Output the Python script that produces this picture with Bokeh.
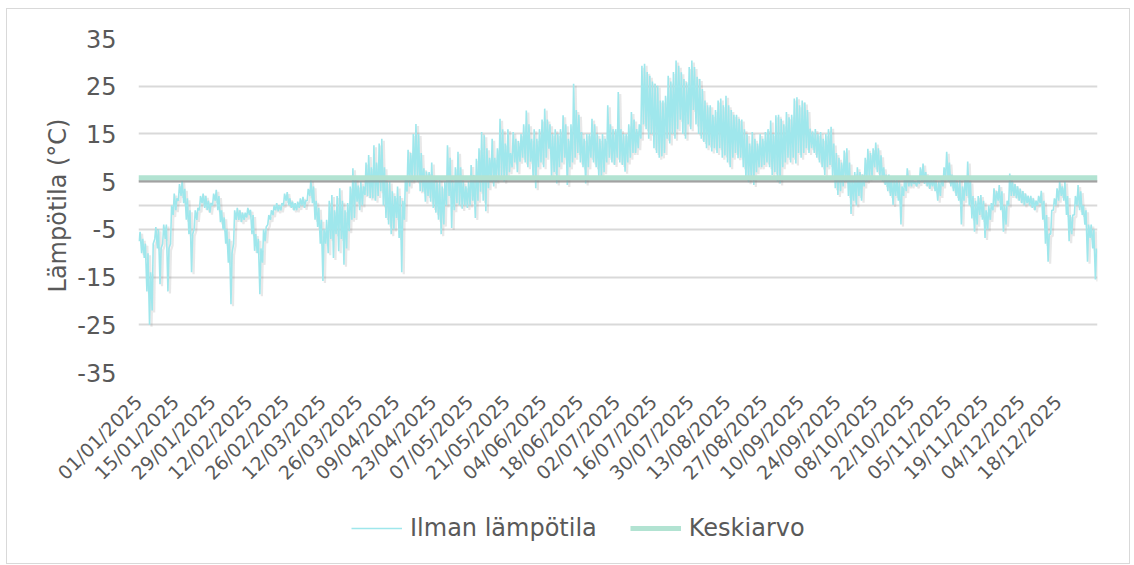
import math
import numpy as np
from bokeh.plotting import figure
from bokeh.layouts import column
from bokeh.models import Range1d, FixedTicker, Legend, LegendItem
from bokeh.embed import file_html
from bokeh.resources import INLINE

# ---------------- data ----------------
TICK_LABELS = ["01/01/2025", "15/01/2025", "29/01/2025", "12/02/2025", "26/02/2025",
               "12/03/2025", "26/03/2025", "09/04/2025", "23/04/2025", "07/05/2025",
               "21/05/2025", "04/06/2025", "18/06/2025", "02/07/2025", "16/07/2025",
               "30/07/2025", "13/08/2025", "27/08/2025", "10/09/2025", "24/09/2025",
               "08/10/2025", "22/10/2025", "05/11/2025", "19/11/2025", "04/12/2025",
               "18/12/2025"]
TICK_STEP_DAYS = 14

Y_TICKS = [-35, -25, -15, -5, 5, 15, 25, 35]
GRID_LINES = [-35, -25, -15, -5, 0, 5, 15, 25, 35]

MEAN = 5.8  # Keskiarvo

# daily low / high air temperature, month by month
LOW_JAN = [-7.5, -10, -11, -18, -25, -22, -7, -9, -16.5, -8, -7, -18, -8, -2, -1, 1, 2, 0.5, -3, -6,
           -14, -5, -3, -1, 0.5, -0.5, -1, -1.5, 0, 1, -1]
HIGH_JAN = [-5.5, -7, -8, -10, -14, -8, -4.5, -5, -9, -4, -4, -9, 0, 2.5, 1.5, 4.5, 5.2, 3.5, 1.5, -1,
            -6, -1, -0.5, 2, 2.5, 2, 1, 0.5, 2.5, 3.3, 2]
LOW_FEB = [-3.5, -5, -8, -12, -20.7, -8, -3, -3, -3.5, -3, -2.5, -2, -6, -9.5, -10, -18.6, -12, -7.5,
           -4, -3, -2, -1, -1.2, -1, 0, 1, 0, -0.5]
HIGH_FEB = [-1, -2.5, -5, -7, -10, -1, -0.5, -1, -1.5, -1.5, -0.5, -0.9, -2, -6, -7, -9, -5, -4.5,
            -2, -1, 0, 0.5, 0, 0.5, 2.5, 2.8, 1.5, 0.8]
LOW_MAR = [-1, -1, -0.5, 0, -0.5, 1, 2, 0.5, -3, -4.5, -8, -15.8, -8, -10, -7, -11, -6, -9.6, -7,
           -12.4, -9, -5.4, -3, -2.6, 0.8, -1, 0, 2.2, 2, 1.5, 1.5]
HIGH_MAR = [0.5, 0.8, 1.5, 1.8, 1, 3.5, 5.4, 4, 1, -0.5, -3, -5, -3, 1, 2.2, -1, 2, 3.6, 1, -1, 0.5,
            4, 7.8, 5.7, 4.2, 5, 4, 9, 10.6, 8, 12.6]
LOW_APR = [1, 2, 3, 0, -2.6, -4, -6, -5, -2.6, -6.8, -14, -3, 2.9, 4, 5, 5.7, 5, 3, 2.9, 0.8, 2, 0.8,
           -0.5, -1.5, -3, -6, -4, 0, 2, -4.7]
HIGH_APR = [9, 13, 14, 8, 5, 5, 3, 2, 4, 2, 1, 6, 11.7, 11, 15, 17.1, 15, 11, 7.8, 7.1, 7, 9, 6, 5,
            5.5, 4, 5, 12.6, 10, 5]
LOW_MAY = [-1, 0.5, 0, -0.7, 0, -0.5, 0, 1, -2.6, 1, 2.9, 1, -1.2, 3.6, 5, 4, 5, 5.7, 6, 5, 6, 7, 8,
           9, 7, 9.2, 10, 9, 8, 9.2, 6]
HIGH_MAY = [8, 11.25, 8, 5, 4, 5, 8.5, 6.4, 9.8, 12, 15.4, 14.7, 12, 10, 14, 10, 12, 18.2, 16, 13,
            16, 11, 15.4, 14, 13.5, 15, 17, 19.9, 17, 14, 16]
LOW_JUN = [3.6, 8, 9, 8, 10, 11.9, 6, 7, 4.6, 8, 9, 10, 4.3, 8, 9, 10, 11, 9, 8, 4.6, 8, 10, 9, 8, 6,
           6.1, 7, 9, 10, 9]
HIGH_JUN = [14, 16, 18, 20.3, 18, 17, 15, 16, 15, 16, 18.9, 17, 14, 17, 25.5, 20, 19, 15.4, 14, 15,
            15, 18.2, 17, 15, 14, 15, 14, 21, 17, 16]
LOW_JUL = [8.5, 10, 9, 8.5, 7.1, 9, 10, 11, 11, 12, 14, 17, 16, 14, 15, 12, 11, 10, 10.3, 11, 14, 13,
           15, 14, 16, 18, 15, 14, 17, 16, 20]
HIGH_JUL = [16, 23.8, 16, 15, 15, 17, 19.6, 18, 16, 17, 29.3, 29.7, 28, 27.2, 26, 25.5, 25.1, 22, 22,
            23, 27.2, 26, 28, 30.4, 29.3, 27.9, 26.5, 25.8, 29, 30.4, 29]
LOW_AUG = [17, 15, 14, 13.3, 12, 12.6, 11.3, 12, 11, 12, 10, 10.5, 9, 8, 10, 11, 9.9, 10, 8, 5.6, 4.9,
           6, 4.3, 7, 8, 8, 8.5, 9, 8, 6.4, 7]
HIGH_AUG = [27, 26.5, 24.4, 22, 21, 21, 19, 20, 22, 22.4, 21, 23, 21, 20, 19, 19, 18.2, 18, 16, 15,
            13, 15.4, 14, 13, 15, 14, 15.4, 16, 17.8, 15, 18.9]
LOW_SEP = [5, 4.6, 8, 9, 10, 9, 10, 8.8, 11, 10, 11, 12, 11, 12, 11, 10, 9, 8, 6.4, 8, 8.5, 5.7, 3.6,
           2.2, 3, 4, 5, 2, -1.8, 1]
HIGH_SEP = [19, 18.2, 17, 19.6, 18.5, 19, 22.4, 22.7, 21, 22, 21.6, 20, 16.1, 15.5, 16, 15, 15.4, 14,
            15, 16, 16.5, 13, 11, 10, 9, 11.5, 12, 9, 6, 7]
LOW_OCT = [0, 2, 1, 4, 5, 5.5, 6, 8, 7, 6, 5, 4.3, 3, 2, 0.1, 2, 1, -4, 2, 3, 4, 4, 4.5, 4, 4.5, 5,
           4.5, 4, 3.5, 4, 3]
HIGH_OCT = [8, 7, 6.5, 10, 11.9, 11, 12, 13.2, 12, 10.5, 8, 6.5, 6.5, 6, 5.5, 6, 5, 4, 6, 7.8, 6, 5.5,
            5, 5.5, 8, 8.8, 7, 6, 5.5, 6, 5]
LOW_NOV = [1, 2, 4, 6, 5, 4, 3, 2, 1, -4, 1, 2, 0, -2.7, -5.5, -4, -2, -3, -6.8, -5, -3, -1, 0, 1, -1,
           -5.5, -4, 0, 2, 2]
HIGH_NOV = [5, 6, 8, 11.25, 9, 6.5, 6, 5, 5.5, 4, 6, 9.2, 5, 2, 1, 2, 2.2, 1, -1, 0, 0.5, 3.6, 3, 4.3,
            3, 0, 1, 6.7, 5, 4.5]
LOW_DEC = [1.5, 1, 0.5, 0, 0.5, 0, -0.5, -1, 0, 0.5, -3, -8, -11.8, -6, -1, 0, 1, 2, 1, -2, -7.5, -6,
           -2, 0, -1, -2, -4, -11.8, -6.8, -9, -15.5]
HIGH_DEC = [4, 3.5, 3, 2.5, 2, 2, 1.5, 1, 2, 3.1, 1, -2, -6, -1, 1.5, 3.6, 5, 4, 5, 2, -2, -2, 2, 4.3,
            3, 0, -1, -4, -4, -5, -9]

LOW = (LOW_JAN + LOW_FEB + LOW_MAR + LOW_APR + LOW_MAY + LOW_JUN +
       LOW_JUL + LOW_AUG + LOW_SEP + LOW_OCT + LOW_NOV + LOW_DEC)
HIGH = (HIGH_JAN + HIGH_FEB + HIGH_MAR + HIGH_APR + HIGH_MAY + HIGH_JUN +
        HIGH_JUL + HIGH_AUG + HIGH_SEP + HIGH_OCT + HIGH_NOV + HIGH_DEC)

# ---------------- styling ----------------
FONT = "DejaVu Sans"
TEXT_COLOR = "#595959"
GRID_COLOR = "#d9d9d9"
TEMP_COLOR = "#9fe7ec"
MEAN_COLOR = "#b2e3d2"
TEMP_WIDTH = 1.6
MEAN_WIDTH = 5

W = 1122
H_MAIN, H_LEG = 492, 62
FL, FR, FT, FB = 131, 32, 29, 129
FRAME_W = W - FL - FR
FRAME_H = H_MAIN - FT - FB

n_days = len(LOW)
days = np.arange(n_days)
x_temp = np.empty(2 * n_days)
y_temp = np.empty(2 * n_days)
x_temp[0::2] = days + 0.2
x_temp[1::2] = days + 0.6
y_temp[0::2] = LOW
y_temp[1::2] = HIGH

Y_MIN, Y_MAX = Y_TICKS[0], Y_TICKS[-1]
px_x = n_days / FRAME_W
px_y = (Y_MAX - Y_MIN) / FRAME_H

p = figure(width=W, height=H_MAIN,
           x_range=Range1d(0, n_days), y_range=Range1d(Y_MIN, Y_MAX),
           output_backend="svg", toolbar_location=None,
           min_border_left=FL, min_border_right=FR,
           min_border_top=FT, min_border_bottom=FB)
p.outline_line_color = None
p.background_fill_color = "white"
p.border_fill_color = "white"

# shadows + series
p.line(x_temp + 2 * px_x, y_temp - 2 * px_y, line_color="#8a8a8a", line_alpha=0.2, line_width=2.2)
p.line(x_temp, y_temp, line_color=TEMP_COLOR, line_width=TEMP_WIDTH)
x_mean = [days[0], days[-1] + 1]
p.line(x_mean, [MEAN - 3.5 * px_y] * 2, line_color="#7d7d7d", line_alpha=0.6, line_width=2.5)
p.line(x_mean, [MEAN] * 2, line_color=MEAN_COLOR, line_width=MEAN_WIDTH)

# axes
p.yaxis.ticker = FixedTicker(ticks=Y_TICKS)
p.yaxis.major_label_overrides = {v: str(v) for v in Y_TICKS}
p.yaxis.axis_line_color = None
p.yaxis.major_tick_line_color = None
p.yaxis.minor_tick_line_color = None
p.yaxis.major_tick_out = 0
p.yaxis.major_tick_in = 0
p.yaxis.major_label_text_font = FONT
p.yaxis.major_label_text_font_size = "24px"
p.yaxis.major_label_text_color = TEXT_COLOR
p.yaxis.major_label_standoff = 22
p.yaxis.axis_label = "Lämpötila (°C)"
p.yaxis.axis_label_text_font = FONT
p.yaxis.axis_label_text_font_size = "24px"
p.yaxis.axis_label_text_font_style = "normal"
p.yaxis.axis_label_text_color = TEXT_COLOR
p.yaxis.axis_label_standoff = 2

tick_pos = [i * TICK_STEP_DAYS for i in range(len(TICK_LABELS))]
p.xaxis.ticker = FixedTicker(ticks=tick_pos)
p.xaxis.major_label_overrides = {pos: lab for pos, lab in zip(tick_pos, TICK_LABELS)}
p.xaxis.major_label_orientation = math.pi / 4
p.xaxis.axis_line_color = None
p.xaxis.major_tick_line_color = None
p.xaxis.minor_tick_line_color = None
p.xaxis.major_tick_out = 0
p.xaxis.major_tick_in = 0
p.xaxis.major_label_text_font = FONT
p.xaxis.major_label_text_font_size = "19px"
p.xaxis.major_label_text_color = TEXT_COLOR
p.xaxis.major_label_standoff = 26

p.xgrid.visible = False
p.ygrid.ticker = FixedTicker(ticks=GRID_LINES)
p.ygrid.grid_line_color = GRID_COLOR
p.ygrid.grid_line_width = 2

# legend strip (separate small figure so that nothing is clipped)
lg = figure(width=W, height=H_LEG, output_backend="svg", toolbar_location=None,
            x_range=Range1d(0, 1), y_range=Range1d(0, 1),
            x_axis_location=None, y_axis_location=None,
            min_border_left=0, min_border_right=0, min_border_top=0, min_border_bottom=0)
lg.grid.visible = False
lg.outline_line_color = None
lg.border_fill_color = "white"
nan = float("nan")
leg_temp = lg.line(x=[nan], y=[nan], line_color=TEMP_COLOR, line_width=TEMP_WIDTH)
leg_mean = lg.line(x=[nan], y=[nan], line_color=MEAN_COLOR, line_width=MEAN_WIDTH)
legend = Legend(items=[LegendItem(label="Ilman lämpötila", renderers=[leg_temp]),
                       LegendItem(label="Keskiarvo", renderers=[leg_mean])],
                orientation="horizontal", location=(213, 21),
                label_text_font=FONT, label_text_font_size="24px",
                label_text_color=TEXT_COLOR, glyph_width=51, glyph_height=24,
                label_height=24, label_standoff=8, spacing=33, padding=0, margin=0,
                border_line_color=None, background_fill_alpha=0)
lg.add_layout(legend)

layout = column(p, lg, spacing=0)
layout.styles = {"border": "1px solid #d9d9d9", "margin-left": "6px", "margin-top": "8px"}

open("out.html", "w").write(file_html(layout, INLINE))
